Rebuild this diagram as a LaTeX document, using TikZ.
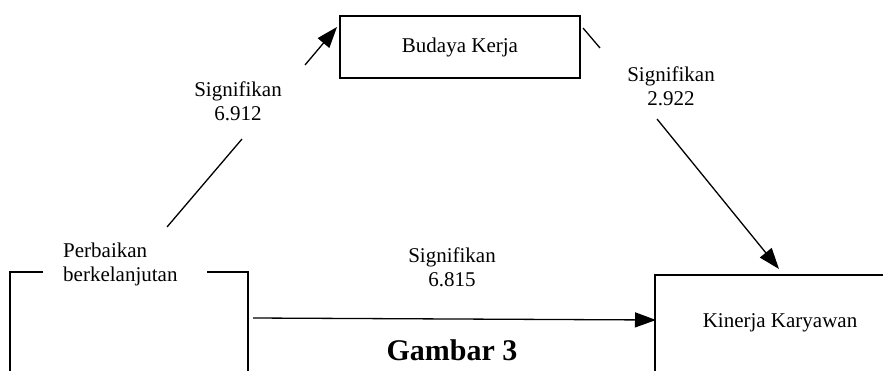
\documentclass[tikz,border=0pt]{standalone}
\usepackage{fontspec}
\setmainfont{Liberation Serif}
\usetikzlibrary{arrows.meta}
\begin{document}
\begin{tikzpicture}[x=1pt,y=-1pt,
  txt/.style={font=\fontsize{21}{24}\selectfont, inner sep=0pt, align=center},
  boxline/.style={line width=2.4pt},
  conn/.style={line width=1.3pt},
  tip/.style={conn, -{Triangle[length=21pt,width=15pt]}}]
\useasboundingbox (0,0) rectangle (883,370);
% Budaya Kerja box
\node[boxline, draw, minimum width=240pt, minimum height=62pt, inner sep=0pt,
      font=\fontsize{21}{24}\selectfont] (bk) at (460,47) {Budaya Kerja};
% Perbaikan berkelanjutan (open box)
\draw[boxline] (43,272) -- (10,272) -- (10,372);
\draw[boxline] (207,272) -- (248,272) -- (248,372);
\node[txt, align=left, anchor=west] (pb) at (63,264) {Perbaikan\\berkelanjutan};
% Kinerja Karyawan (open box)
\draw[boxline] (885,275) -- (655,275) -- (655,372);
\node[txt] (kk) at (780,323) {Kinerja Karyawan};
% connector coordinates
\coordinate (a1) at (167,227);
\coordinate (a2) at (242,139);
\coordinate (a3) at (305,65);
\coordinate (a4) at (337,27);
\coordinate (b1) at (583,28);
\coordinate (b2) at (600,48);
\coordinate (b3) at (657,119);
\coordinate (b4) at (779,269);
\coordinate (c1) at (253,318);
\coordinate (c2) at (656,320);
% connectors
\draw[conn] (a1) -- (a2);
\draw[tip] (a3) -- (a4);
\draw[conn] (b1) -- (b2);
\draw[tip] (b3) -- (b4);
\draw[tip] (c1) -- (c2);
% labels
\node[txt] (l1) at (238,101) {Signifikan\\6.912};
\node[txt] (l2) at (671,86) {Signifikan\\2.922};
\node[txt] (l3) at (452,267) {Signifikan\\6.815};
\node[font=\fontsize{30}{34}\selectfont\bfseries, inner sep=0pt] (g) at (452,350) {Gambar 3};
\end{tikzpicture}
\end{document}
